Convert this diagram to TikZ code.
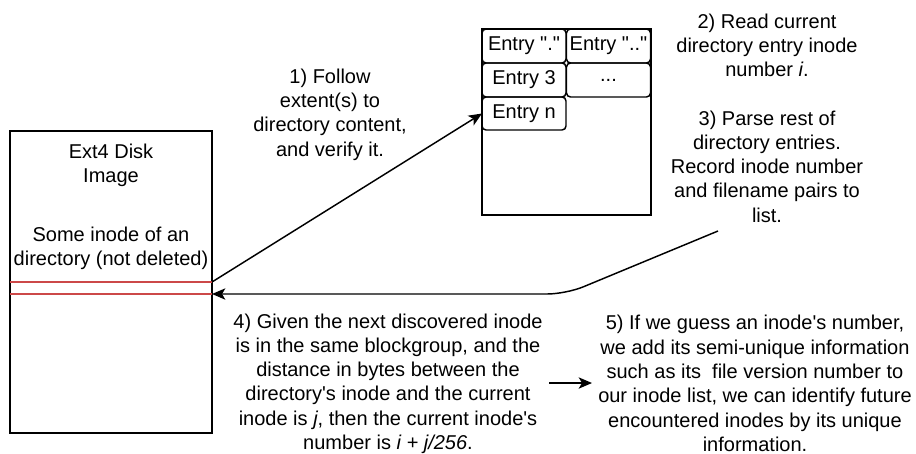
\documentclass[tikz,border=0pt]{standalone}
\usepackage{fontspec}
\newfontfamily\drawfont{Liberation Sans}
\usetikzlibrary{arrows.meta}
\definecolor{inodered}{RGB}{204,72,72}
\begin{document}
\begin{tikzpicture}[x=0.75pt,y=-0.75pt,
  txt/.style={font=\drawfont\fontsize{15}{18.2}\selectfont, align=center, inner sep=0pt},
  box/.style={draw, line width=1.1pt, inner sep=0pt, outer sep=0pt},
  cell/.style={draw, line width=1.1pt, rounded corners=3pt, inner sep=0pt, outer sep=0pt,
    minimum width=63pt, minimum height=25.5pt, font=\drawfont\fontsize{15}{18}\selectfont},
  link/.style={line width=1.1pt, -{Stealth[length=10pt,width=8.5pt,inset=2.5pt]}},
  redline/.style={draw=inodered, line width=0.8pt}]
\useasboundingbox (0,0) rectangle (916,453);

% disk image with the directory inode slot
\node[box, minimum width=151.5pt, minimum height=226.5pt] (disk) at (111,282) {};
\draw[redline] (10,282) -- (212,282);
\draw[redline] (10,294) -- (212,294);
\coordinate (slotlow) at (212,294);
\node[txt] (disktxt) at (111,207) {Ext4 Disk\\Image\\[26pt]Some inode of an\\directory (not deleted)};

% directory content block
\node[box, minimum width=126.75pt, minimum height=139.5pt] (dir) at (566.5,122) {};
\node[cell] (cdot) at (524,46) {Entry "."};
\node[cell] (cdotdot) at (608.5,46) {Entry ".."};
\node[cell] (c3) at (524,80) {Entry 3};
\node[cell] (cmore) at (608.5,80) {...};
\node[cell, minimum height=24.75pt] (cn) at (524,113.5) {Entry n};

% step descriptions
\node[txt] (s1) at (330,114.5) {1) Follow\\extent(s) to\\directory content,\\and verify it.};
\node[txt] (s23) at (767,118) {2) Read current\\directory entry inode\\number \textit{i}.\\[18pt]3) Parse rest of\\directory entries.\\Record inode number\\and filename pairs to\\list.};
\node[txt] (s4) at (388,383.5) {4) Given the next discovered inode\\is in the same blockgroup, and the\\distance in bytes between the\\directory's inode and the current\\inode is \textit{j}, then the current inode's\\number is \textit{i + j/256}.};
\node[txt] (s5) at (755,383.5) {5) If we guess an inode's number,\\we add its semi-unique information\\such as its\ \ file version number to\\our inode list, we can identify future\\encountered inodes by its unique\\information.};

% connectors
\coordinate (retstart) at (718,231);
\coordinate (retbend) at (566,294);
\draw[link] (disk.east) -- (cn.west);
\draw[link, rounded corners=14pt] (retstart) -- (retbend) -- (slotlow);
\coordinate (nxs) at (549,383);
\coordinate (nxe) at (592,383);
\draw[link] (nxs) -- (nxe);
\end{tikzpicture}
\end{document}
